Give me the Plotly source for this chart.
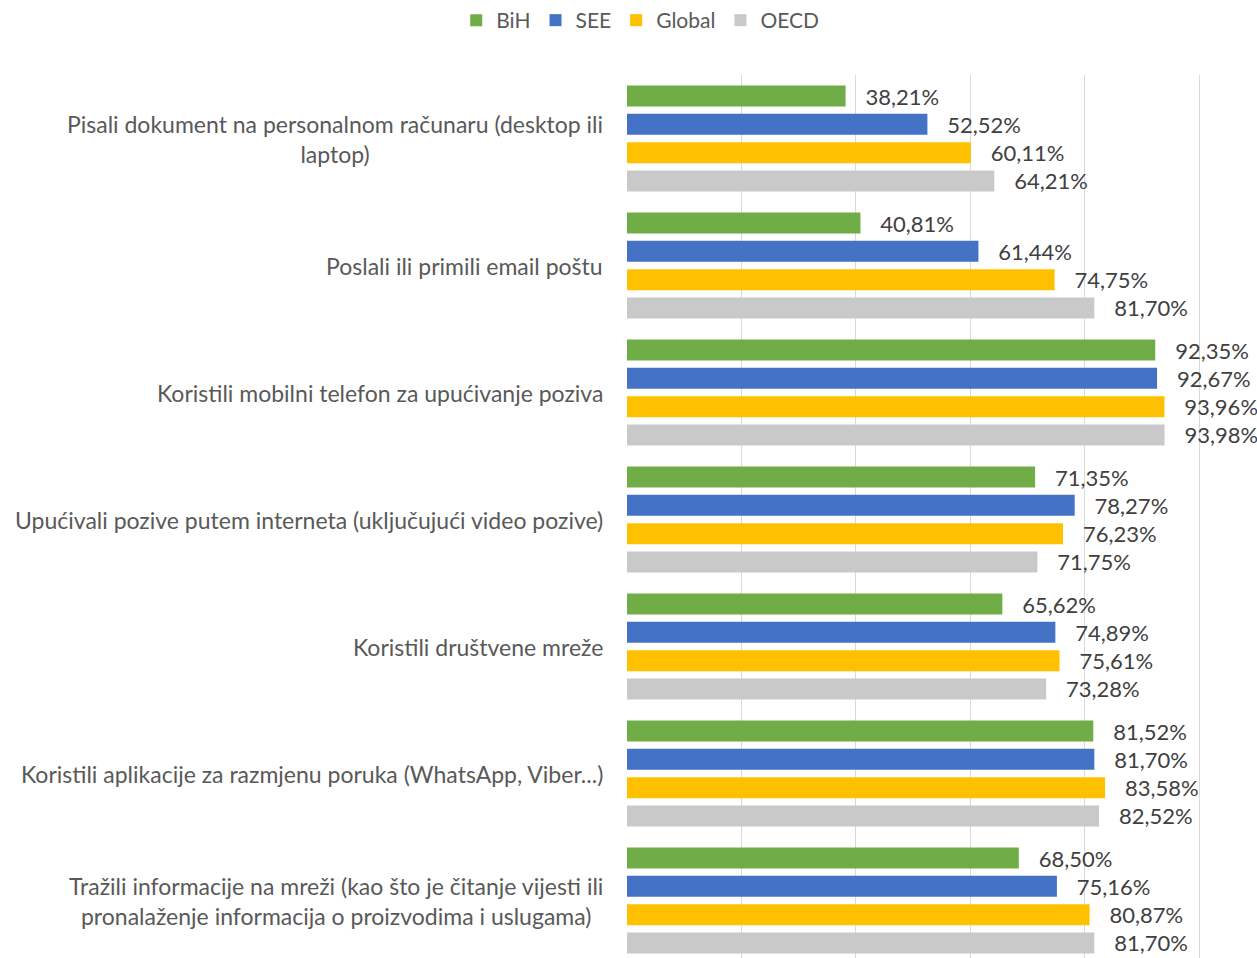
import plotly.graph_objects as go

categories = [
    "Pisali dokument na personalnom računaru (desktop ili<br>laptop)",
    "Poslali ili primili email poštu",
    "Koristili mobilni telefon za upućivanje poziva",
    "Upućivali pozive putem interneta (uključujući video pozive)",
    "Koristili društvene mreže",
    "Koristili aplikacije za razmjenu poruka (WhatsApp, Viber...)",
    "Tražili informacije na mreži (kao što je čitanje vijesti ili<br>pronalaženje informacija o proizvodima i uslugama)",
]

bih = [38.21, 40.81, 92.35, 71.35, 65.62, 81.52, 68.50]
see = [52.52, 61.44, 92.67, 78.27, 74.89, 81.70, 75.16]
global_ = [60.11, 74.75, 93.96, 76.23, 75.61, 83.58, 80.87]
oecd = [64.21, 81.70, 93.98, 71.75, 73.28, 82.52, 81.70]

series = [
    ("BiH", bih, "#70AD47"),
    ("SEE", see, "#4472C4"),
    ("Global", global_, "#FFC000"),
    ("OECD", oecd, "#C9C9C9"),
]

FONT = "Lato"
TEXT_COLOR = "#404040"
LABEL_COLOR = "#595959"


def pct(v):
    return "\u00a0\u00a0\u00a0" + f"{v:.2f}".replace(".", ",") + "%"


fig = go.Figure()
for name, vals, color in series:
    fig.add_trace(go.Bar(
        name=name,
        y=categories,
        x=vals,
        orientation="h",
        marker=dict(color=color, line=dict(width=0)),
        text=[pct(v) for v in vals],
        textposition="outside",
        textfont=dict(family=FONT, size=22, color=TEXT_COLOR),
        constraintext="none",
        cliponaxis=False,
        hoverinfo="skip",
    ))

# category labels, centred within their block and right-aligned to the axis
for cat in categories:
    fig.add_annotation(
        x=0, xref="paper", xshift=-22,
        y=cat, yref="y",
        text=cat, showarrow=False,
        xanchor="right", yanchor="middle", align="center",
        font=dict(family=FONT, size=23, color=LABEL_COLOR),
    )

fig.update_layout(
    width=1257, height=958,
    margin=dict(l=627, r=0, t=75, b=0),
    paper_bgcolor="white", plot_bgcolor="white",
    barmode="group",
    bargap=0.108,
    bargroupgap=0.26,
    showlegend=True,
    legend=dict(
        orientation="h", x=0.021, xanchor="center", y=1.062, yanchor="middle",
        font=dict(family=FONT, size=21, color=LABEL_COLOR),
        traceorder="normal", itemwidth=30,
    ),
    xaxis=dict(
        range=[0, 110.14], dtick=20, tick0=0,
        showgrid=True, gridcolor="#D9D9D9", gridwidth=1,
        zeroline=False, showticklabels=False, showline=False,
    ),
    yaxis=dict(
        type="category",
        range=[6.5 - 6 / 127, -0.5],
        showticklabels=False, showgrid=False, zeroline=False, showline=False,
    ),
)

fig.write_html("out.html")
